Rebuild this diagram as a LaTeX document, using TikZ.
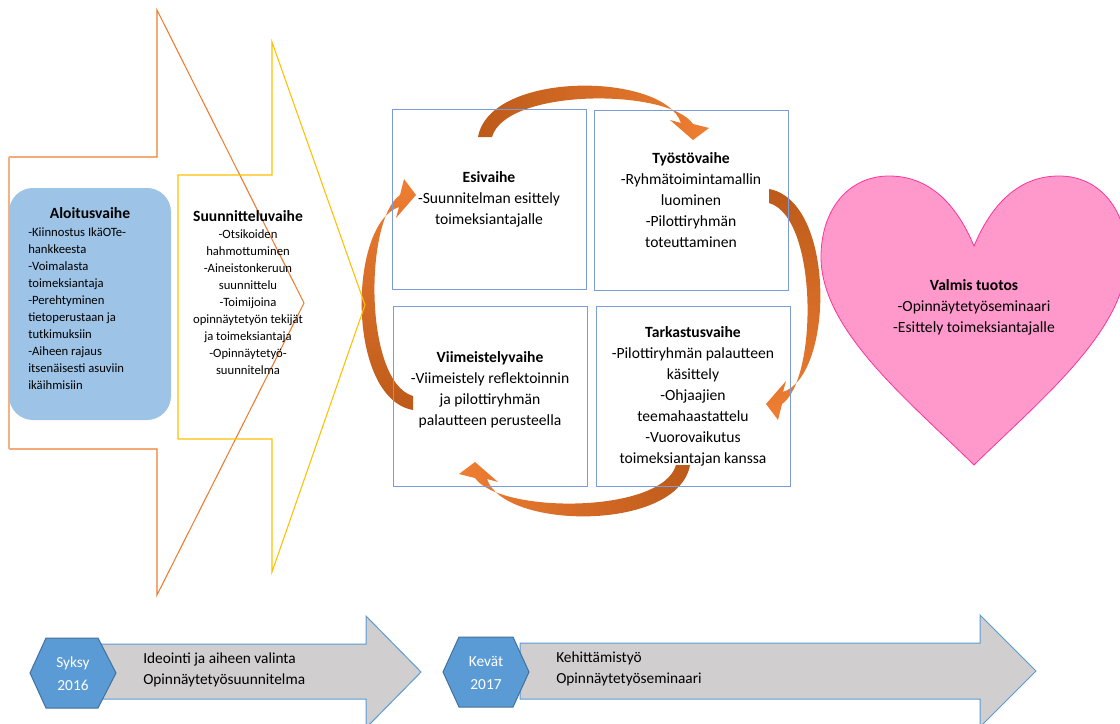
\documentclass[tikz,border=0pt]{standalone}
\usepackage{fontspec}
\setmainfont{Carlito}
\definecolor{outlineorange}{HTML}{ED7D31}
\definecolor{outlinepeach}{HTML}{F4B183}
\definecolor{outlineyellow}{HTML}{FFC000}
\definecolor{startfill}{HTML}{9DC3E6}
\definecolor{boxblue}{HTML}{7A9CDA}
\definecolor{arrowbrown}{HTML}{BD5A1A}
\definecolor{arroworange}{HTML}{EE7E32}
\definecolor{heartfill}{HTML}{FF99CC}
\definecolor{heartline}{HTML}{FF3399}
\definecolor{bandgray}{HTML}{D0CECE}
\definecolor{bandline}{HTML}{5B9BD5}
\definecolor{hexfill}{HTML}{5B9BD5}
\definecolor{hexline}{HTML}{41719C}
\tikzset{
  bend/.pic={
    \shade[#1]
      (0,0) .. controls (12,-67) and (186,-65) .. (203,-14)
      -- (192,-17) -- (215,3) -- (231,-9) -- (215,-13)
      .. controls (190,-49) and (28,-49) .. (14,0) -- cycle;
  }
}
\begin{document}
\begin{tikzpicture}[x=0.75pt,y=-0.75pt,
  boxline/.style={draw=boxblue, line width=0.7pt},
  bodytext/.style={font=\fontsize{11.7}{15.75}\selectfont, align=center, text=black, inner sep=0pt},
  sidetext/.style={font=\fontsize{9.5}{12.75}\selectfont, text=black, inner sep=0pt},
  sidetitle/.style={font=\fontsize{11.7}{14}\selectfont\bfseries, text=black, inner sep=0pt},
  bandtext/.style={font=\fontsize{11.5}{15.5}\selectfont, align=left, text=black, inner sep=0pt, anchor=west},
  hextext/.style={font=\fontsize{11.5}{17}\selectfont, align=center, text=white, inner sep=0pt},
  band/.style={fill=bandgray, draw=bandline, line width=0.75pt, line join=miter},
  hexagon/.style={fill=hexfill, draw=hexline, line width=0.75pt}
]
\useasboundingbox (0,0) rectangle (1120,724);
\clip (0,0) rectangle (1120,724);

% curved arrows linking the four phases (base dark, head light)
\pic at (478,137) {bend={left color=arrowbrown, right color=arroworange}};
\pic[rotate=-90] at (769,189) {bend={top color=arrowbrown, bottom color=arroworange}};
\pic[rotate=180] at (690,465) {bend={right color=arrowbrown, left color=arroworange}};
\pic[rotate=90] at (413,410) {bend={bottom color=arrowbrown, top color=arroworange}};

% the four phase boxes
\draw[boxline] (392,109) rectangle (586,289);
\draw[boxline] (594,110) rectangle (788,290);
\draw[boxline] (393,306) rectangle (587,486);
\draw[boxline] (596,306) rectangle (790,486);

% outline arrow of the starting phase
\draw[outlineorange, line width=0.8pt, line join=miter]
  (9,157) -- (157,157) -- (157,10) -- (304,303) -- (157,595) -- (157,449) -- (9,449);
\draw[outlinepeach, line width=0.8pt] (9,449) -- (9,157);

% rounded box of the starting phase
\fill[startfill, rounded corners=18pt] (9,188) rectangle (171,420);

% outline arrow of the planning phase
\draw[outlineyellow, line width=0.8pt, line join=miter]
  (178,175) -- (272,175) -- (272,42) -- (365,305) -- (272,572) -- (272,439) -- (178,439) -- cycle;

% heart
\draw[fill=heartfill, draw=heartline, line width=0.6pt]
  (974,246) .. controls (995,196) and (1025,176) .. (1059,176)
  .. controls (1100,176) and (1127,210) .. (1127,257)
  .. controls (1127,330) and (1040,400) .. (974,465)
  .. controls (908,400) and (821,330) .. (821,257)
  .. controls (821,210) and (848,176) .. (889,176)
  .. controls (923,176) and (953,196) .. (974,246) -- cycle;

% texts of the starting and planning phases
\node[sidetitle] (alku) at (90,213) {Aloitusvaihe};
\node[sidetext, align=left, anchor=west] (alkulista) at (28,309)
  {-Kiinnostus IkäOTe-\\hankkeesta\\-Voimalasta\\toimeksiantaja\\-Perehtyminen\\tietoperustaan ja\\tutkimuksiin\\-Aiheen rajaus\\itsenäisesti asuviin\\ikäihmisiin};
\node[sidetitle] (suunn) at (248,216) {Suunnitteluvaihe};
\node[sidetext, align=center] (suunnlista) at (248,302)
  {-Otsikoiden\\hahmottuminen\\-Aineistonkeruun\\suunnittelu\\-Toimijoina\\opinnäytetyön tekijät\\ja toimeksiantaja\\-Opinnäytetyö-\\suunnitelma};

% texts of the four phases
\node[bodytext] (esi) at (489,199) {\textbf{Esivaihe}\\-Suunnitelman esittely\\toimeksiantajalle};
\node[bodytext] (tyosto) at (691,200) {\textbf{Työstövaihe}\\-Ryhmätoimintamallin\\luominen\\-Pilottiryhmän\\toteuttaminen};
\node[bodytext] (viim) at (490,390) {\textbf{Viimeistelyvaihe}\\-Viimeistely reflektoinnin\\ja pilottiryhmän\\palautteen perusteella};
\node[bodytext] (tark) at (693,396) {\textbf{Tarkastusvaihe}\\-Pilottiryhmän palautteen\\käsittely\\-Ohjaajien\\teemahaastattelu\\-Vuorovaikutus\\toimeksiantajan kanssa};
\node[bodytext] (valmis) at (974,307) {\textbf{Valmis tuotos}\\-Opinnäytetyöseminaari\\-Esittely toimeksiantajalle};

% timeline arrows
\draw[band] (100,644) -- (366,644) -- (366,616) -- (421,672) -- (366,728) -- (366,699) -- (100,699) -- cycle;
\draw[hexagon] (30,673) -- (46,638) -- (98,638) -- (116,673) -- (98,708) -- (46,708) -- cycle;
\node[hextext] (syksy) at (73,674) {Syksy\\2016};
\node[bandtext] (syksyteksti) at (143,670) {Ideointi ja aiheen valinta\\Opinnäytetyösuunnitelma};

\draw[band] (520,643) -- (980,643) -- (980,615) -- (1036,671) -- (980,727) -- (980,699) -- (520,699) -- cycle;
\draw[hexagon] (443,672) -- (459,637) -- (513,637) -- (529,672) -- (513,707) -- (459,707) -- cycle;
\node[hextext] (kevat) at (486,673) {Kevät\\2017};
\node[bandtext] (kevatteksti) at (556,669) {Kehittämistyö\\Opinnäytetyöseminaari};
\end{tikzpicture}
\end{document}
